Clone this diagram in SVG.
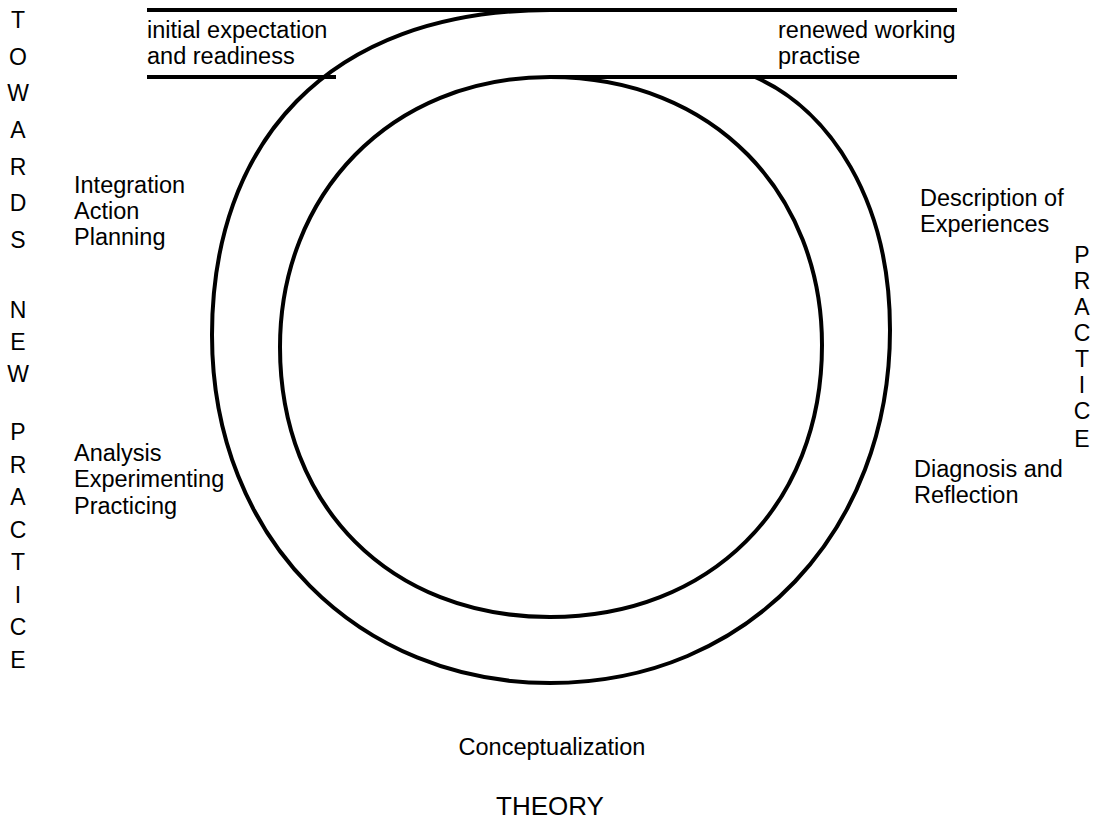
<svg xmlns="http://www.w3.org/2000/svg" width="1101" height="821" viewBox="0 0 1101 821">
<style>
.ln{fill:none;stroke:#000;stroke-width:4}
.t{font-family:"Liberation Sans",Arial,sans-serif;font-size:23.5px;fill:#000}
.v{font-family:"Liberation Sans",Arial,sans-serif;font-size:23px;fill:#000;text-anchor:middle}
.c{text-anchor:middle}
</style>
<rect width="1101" height="821" fill="#fff"/>
<g id="connectors">
<path class="ln" d="M147,10 H957"/>
<path class="ln" d="M147,77 H336"/>
<path class="ln" d="M550,77 H957"/>
<path id="outer-loop" class="ln" d="M550,10 C325,10 212,145 212,335 C212,540 360,683 550,683 C750,683 890,530 890,330 C890,200 830,110 755,77"/>
<path id="inner-loop" class="ln" d="M550,77 C715,77 822,195 822,345 C822,506 710,617 550,617 C390,617 280,506 280,347 C280,195 390,77 550,77 Z"/>
</g>
<g id="start"><text class="t" x="147" y="38">initial expectation</text><text class="t" x="147" y="64">and readiness</text></g>
<g id="end"><text class="t" x="778" y="38">renewed working</text><text class="t" x="778" y="64">practise</text></g>
<g id="integration"><text class="t" x="74" y="193">Integration</text><text class="t" x="74" y="219">Action</text><text class="t" x="74" y="245">Planning</text></g>
<g id="analysis"><text class="t" x="74" y="461">Analysis</text><text class="t" x="74" y="487">Experimenting</text><text class="t" x="74" y="514">Practicing</text></g>
<g id="description"><text class="t" x="920" y="206">Description of</text><text class="t" x="920" y="232">Experiences</text></g>
<g id="diagnosis"><text class="t" x="914" y="477">Diagnosis and</text><text class="t" x="914" y="503">Reflection</text></g>
<g id="conceptualization"><text class="t c" x="552" y="755">Conceptualization</text></g>
<g id="theory"><text class="t c" x="550" y="815" style="font-size:26px">THEORY</text></g>
<g id="practice-right">
<text class="v" x="1082" y="263">P</text><text class="v" x="1082" y="289">R</text><text class="v" x="1082" y="315">A</text><text class="v" x="1082" y="341">C</text><text class="v" x="1082" y="367">T</text><text class="v" x="1082" y="393">I</text><text class="v" x="1082" y="419">C</text><text class="v" x="1082" y="447">E</text>
</g>
<g id="towards-new-practice">
<text class="v" x="18" y="28">T</text><text class="v" x="18" y="65">O</text><text class="v" x="18" y="101">W</text><text class="v" x="18" y="138">A</text><text class="v" x="18" y="175">R</text><text class="v" x="18" y="211">D</text><text class="v" x="18" y="248">S</text>
<text class="v" x="18" y="318">N</text><text class="v" x="18" y="350">E</text><text class="v" x="18" y="382">W</text>
<text class="v" x="18" y="440">P</text><text class="v" x="18" y="473">R</text><text class="v" x="18" y="505">A</text><text class="v" x="18" y="538">C</text><text class="v" x="18" y="570">T</text><text class="v" x="18" y="603">I</text><text class="v" x="18" y="635">C</text><text class="v" x="18" y="668">E</text>
</g>
</svg>
